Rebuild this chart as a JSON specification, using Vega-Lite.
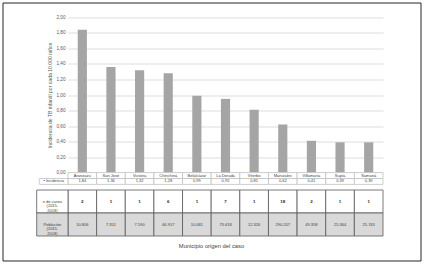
{
  "$schema": "https://vega.github.io/schema/vega-lite/v6.json",
  "width": 418,
  "height": 258,
  "autosize": {"type": "none"},
  "padding": {"left": 2.5, "top": 2.5, "right": 2, "bottom": 2},
  "background": "white",
  "config": {
    "locale": {"number": {"decimal": ",", "thousands": ".", "grouping": [3], "currency": ["", ""]}},
    "view": {"stroke": "#262626", "strokeWidth": 1},
    "font": "Liberation Sans"
  },
  "title": {"text": "Municipio origen del caso", "orient": "bottom", "anchor": "middle", "frame": "group", "offset": -18, "fontSize": 5.8, "fontWeight": "normal", "color": "#404040", "font": "Liberation Sans"},
  "datasets": {
    "m": [
      {"municipio": "Aranzazu", "incidencia": 1.84, "casos": 2, "poblacion": 10806},
      {"municipio": "San José", "incidencia": 1.36, "casos": 1, "poblacion": 7351},
      {"municipio": "Victoria", "incidencia": 1.32, "casos": 1, "poblacion": 7590},
      {"municipio": "Chinchiná", "incidencia": 1.28, "casos": 6, "poblacion": 46917},
      {"municipio": "Belalcázar", "incidencia": 0.99, "casos": 1, "poblacion": 10081},
      {"municipio": "La Dorada", "incidencia": 0.95, "casos": 7, "poblacion": 73618},
      {"municipio": "Viterbo", "incidencia": 0.81, "casos": 1, "poblacion": 12326},
      {"municipio": "Manizales", "incidencia": 0.62, "casos": 18, "poblacion": 290247},
      {"municipio": "Villamaría", "incidencia": 0.41, "casos": 2, "poblacion": 49358},
      {"municipio": "Supía", "incidencia": 0.39, "casos": 1, "poblacion": 25364},
      {"municipio": "Samaná", "incidencia": 0.39, "casos": 1, "poblacion": 25743}
    ],
    "hi": [{"label": "▪ Incidencia"}],
    "hb": [
      {"key": "casos", "label": "n de casos\n(2015-\n2018)"},
      {"key": "poblacion", "label": "Población\n(2015-\n2018)"}
    ]
  },
  "resolve": {"scale": {"x": "independent", "y": "independent", "fill": "independent"}},
  "layer": [
    {
      "data": {"name": "m"},
      "mark": {"type": "bar", "width": {"band": 0.32}, "color": "#a5a5a5"},
      "encoding": {
        "x": {"field": "municipio", "type": "nominal", "sort": null, "axis": null,
              "scale": {"range": [65.5, 380.5], "paddingInner": 0, "paddingOuter": 0}},
        "y": {"field": "incidencia", "type": "quantitative",
              "scale": {"domain": [0, 2], "range": [170.1, 14.9], "nice": false},
              "axis": {"offset": -65.5, "values": [0, 0.2, 0.4, 0.6, 0.8, 1, 1.2, 1.4, 1.6, 1.8, 2], "format": ".2f",
                       "grid": true, "gridColor": "#d4d4d4", "gridWidth": 0.8, "domain": false, "ticks": false, "tickSize": 0,
                       "labelPadding": 3, "labelFontSize": 4.7, "labelColor": "#595959", "labelFont": "Liberation Sans",
                       "title": "Incidencia de TB infantil por cada 10.000 niños", "titleFontSize": 5.1, "titleFontWeight": "normal",
                       "titleColor": "#595959", "titleFont": "Liberation Sans", "titlePadding": 3}}
      }
    },
    {
      "data": {"name": "m"},
      "encoding": {
        "x": {"field": "municipio", "type": "nominal", "sort": null, "axis": null,
              "scale": {"range": [65.5, 380.5], "paddingInner": 0, "paddingOuter": 0}}
      },
      "layer": [
        {"mark": {"type": "rect", "fill": "white", "stroke": "#bfbfbf", "strokeWidth": 0.75},
         "encoding": {"y": {"datum": "names", "type": "nominal", "axis": null,
                            "scale": {"domain": ["names", "inc"], "range": [170.1, 181.9], "paddingInner": 0, "paddingOuter": 0}}}},
        {"mark": {"type": "text", "fontSize": 4, "color": "#404040"},
         "encoding": {"y": {"datum": "names", "type": "nominal", "axis": null,
                            "scale": {"domain": ["names", "inc"], "range": [170.1, 181.9], "paddingInner": 0, "paddingOuter": 0}},
                      "text": {"field": "municipio", "type": "nominal"}}},
        {"mark": {"type": "rect", "fill": "white", "stroke": "#bfbfbf", "strokeWidth": 0.75},
         "encoding": {"y": {"datum": "inc", "type": "nominal", "axis": null,
                            "scale": {"domain": ["names", "inc"], "range": [170.1, 181.9], "paddingInner": 0, "paddingOuter": 0}}}},
        {"mark": {"type": "text", "fontSize": 4, "color": "#404040"},
         "encoding": {"y": {"datum": "inc", "type": "nominal", "axis": null,
                            "scale": {"domain": ["names", "inc"], "range": [170.1, 181.9], "paddingInner": 0, "paddingOuter": 0}},
                      "text": {"field": "incidencia", "type": "quantitative", "format": ".2f"}}}
      ]
    },
    {
      "data": {"name": "m"},
      "transform": [{"fold": ["casos", "poblacion"], "as": ["key", "value"]}],
      "encoding": {
        "x": {"field": "municipio", "type": "nominal", "sort": null, "axis": null,
              "scale": {"range": [65.5, 380.5], "paddingInner": 0, "paddingOuter": 0}},
        "y": {"field": "key", "type": "nominal", "axis": null,
              "scale": {"domain": ["casos", "poblacion"], "range": [187.5, 233.5], "paddingInner": 0, "paddingOuter": 0}}
      },
      "layer": [
        {"mark": {"type": "rect", "stroke": "#595959", "strokeWidth": 0.8},
         "encoding": {"fill": {"field": "key", "type": "nominal", "legend": null,
                               "scale": {"domain": ["casos", "poblacion"], "range": ["#ffffff", "#d9d9d9"]}}}},
        {"transform": [{"filter": "datum.key === 'casos'"}],
         "mark": {"type": "text", "fontSize": 4.4, "fontWeight": "bold", "color": "#262626"},
         "encoding": {"text": {"field": "value", "type": "quantitative", "format": ",d"}}},
        {"transform": [{"filter": "datum.key === 'poblacion'"}],
         "mark": {"type": "text", "fontSize": 4, "color": "#404040"},
         "encoding": {"text": {"field": "value", "type": "quantitative", "format": ",d"}}}
      ]
    },
    {
      "data": {"name": "hi"},
      "encoding": {
        "x": {"datum": "h", "type": "nominal", "axis": null,
              "scale": {"domain": ["h"], "range": [36.8, 65.5], "paddingInner": 0, "paddingOuter": 0}},
        "y": {"datum": "inc", "type": "nominal", "axis": null,
              "scale": {"domain": ["names", "inc"], "range": [170.1, 181.9], "paddingInner": 0, "paddingOuter": 0}}
      },
      "layer": [
        {"mark": {"type": "rect", "fill": "white", "stroke": "#bfbfbf", "strokeWidth": 0.75}},
        {"mark": {"type": "text", "fontSize": 4, "color": "#404040"},
         "encoding": {"text": {"field": "label", "type": "nominal"}}}
      ]
    },
    {
      "data": {"name": "hb"},
      "encoding": {
        "x": {"datum": "h", "type": "nominal", "axis": null,
              "scale": {"domain": ["h"], "range": [34.2, 65.5], "paddingInner": 0, "paddingOuter": 0}},
        "y": {"field": "key", "type": "nominal", "axis": null,
              "scale": {"domain": ["casos", "poblacion"], "range": [187.5, 233.5], "paddingInner": 0, "paddingOuter": 0}}
      },
      "layer": [
        {"mark": {"type": "rect", "stroke": "#595959", "strokeWidth": 0.8},
         "encoding": {"fill": {"field": "key", "type": "nominal", "legend": null,
                               "scale": {"domain": ["casos", "poblacion"], "range": ["#ffffff", "#d9d9d9"]}}}},
        {"mark": {"type": "text", "fontSize": 4, "color": "#404040", "lineBreak": "\n", "lineHeight": 4.6},
         "encoding": {"text": {"field": "label", "type": "nominal"}}}
      ]
    }
  ]
}
